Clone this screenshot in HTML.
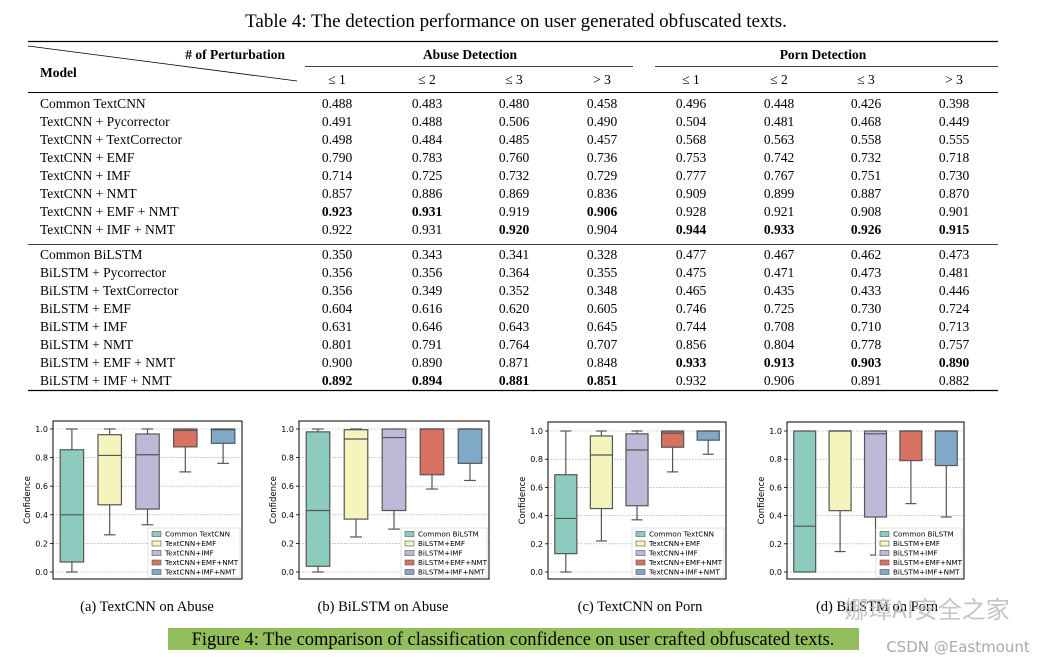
<!DOCTYPE html>
<html><head><meta charset="utf-8">
<style>
html,body{margin:0;padding:0;background:#fff;}
svg{display:block;}
.serif{font-family:"Liberation Serif",serif;}
.sans{font-family:"DejaVu Sans","Liberation Sans",sans-serif;}
</style></head>
<body>
<svg id="root" width="1061" height="661" viewBox="0 0 1061 661" xmlns="http://www.w3.org/2000/svg">
<text x="516" y="27" text-anchor="middle" class="serif" font-size="19">Table 4: The detection performance on user generated obfuscated texts.</text>
<g id="table"></g>
<g id="charts"></g>
<rect x="168" y="628" width="691" height="22" fill="#92bf5b"/>
<text x="513" y="645" text-anchor="middle" class="serif" font-size="18.5">Figure 4: The comparison of classification confidence on user crafted obfuscated texts.</text>
<text x="927" y="618" text-anchor="middle" font-family="'Noto Sans CJK SC',sans-serif" font-size="24" fill="#bbb" opacity="0.85">娜璋AI安全之家</text>
<text x="958" y="652" text-anchor="middle" class="sans" font-size="15" fill="#aaa">CSDN @Eastmount</text>
</svg>
<script>
const NS="http://www.w3.org/2000/svg";
const models=["Common TextCNN","TextCNN + Pycorrector","TextCNN + TextCorrector","TextCNN + EMF","TextCNN + IMF","TextCNN + NMT","TextCNN + EMF + NMT","TextCNN + IMF + NMT","Common BiLSTM","BiLSTM + Pycorrector","BiLSTM + TextCorrector","BiLSTM + EMF","BiLSTM + IMF","BiLSTM + NMT","BiLSTM + EMF + NMT","BiLSTM + IMF + NMT"];
const colHeads=["≤ 1","≤ 2","≤ 3","> 3","≤ 1","≤ 2","≤ 3","> 3"];
const values=[
["0.488","0.483","0.480","0.458","0.496","0.448","0.426","0.398"],
["0.491","0.488","0.506","0.490","0.504","0.481","0.468","0.449"],
["0.498","0.484","0.485","0.457","0.568","0.563","0.558","0.555"],
["0.790","0.783","0.760","0.736","0.753","0.742","0.732","0.718"],
["0.714","0.725","0.732","0.729","0.777","0.767","0.751","0.730"],
["0.857","0.886","0.869","0.836","0.909","0.899","0.887","0.870"],
["0.923","0.931","0.919","0.906","0.928","0.921","0.908","0.901"],
["0.922","0.931","0.920","0.904","0.944","0.933","0.926","0.915"],
["0.350","0.343","0.341","0.328","0.477","0.467","0.462","0.473"],
["0.356","0.356","0.364","0.355","0.475","0.471","0.473","0.481"],
["0.356","0.349","0.352","0.348","0.465","0.435","0.433","0.446"],
["0.604","0.616","0.620","0.605","0.746","0.725","0.730","0.724"],
["0.631","0.646","0.643","0.645","0.744","0.708","0.710","0.713"],
["0.801","0.791","0.764","0.707","0.856","0.804","0.778","0.757"],
["0.900","0.890","0.871","0.848","0.933","0.913","0.903","0.890"],
["0.892","0.894","0.881","0.851","0.932","0.906","0.891","0.882"]];
const bold=[[],[],[],[],[],[],[0,1,3],[2,4,5,6,7],[],[],[],[],[],[],[4,5,6,7],[0,1,2,3]];
// box stats: [whisLo, q1, median, q3, whisHi]
const seriesA=[[0,0.07,0.40,0.855,1],[0.26,0.47,0.815,0.96,1],[0.33,0.44,0.82,0.965,1],[0.70,0.875,0.99,1,1],[0.76,0.90,0.995,1,1]];
const seriesB=[[0,0.04,0.43,0.98,1],[0.245,0.37,0.93,0.995,1],[0.30,0.43,0.94,1,1],[0.58,0.68,1,1,1],[0.64,0.76,1,1,1]];
const seriesC=[[0,0.13,0.38,0.69,1],[0.22,0.45,0.83,0.965,1],[0.37,0.47,0.865,0.98,1],[0.71,0.885,0.985,1,1],[0.835,0.935,1,1,1]];
const seriesD=[[0,0,0.325,1,1],[0.145,0.435,1,1,1],[0.12,0.39,0.98,1,1],[0.485,0.79,1,1,1],[0.39,0.755,1,1,1]];
const legendCNN=["Common TextCNN","TextCNN+EMF","TextCNN+IMF","TextCNN+EMF+NMT","TextCNN+IMF+NMT"];
const legendLSTM=["Common BiLSTM","BiLSTM+EMF","BiLSTM+IMF","BiLSTM+EMF+NMT","BiLSTM+IMF+NMT"];
const yTicks=[0,0.2,0.4,0.6,0.8,1.0];
const captions=["(a)  TextCNN on Abuse","(b)  BiLSTM on Abuse","(c)  TextCNN on Porn","(d)  BiLSTM on Porn"];
const colors=["#8ccbbe","#f6f4bd","#beb9d6","#d6725f","#7fa9c6"];

function el(tag,attrs,parent,text){const e=document.createElementNS(NS,tag);for(const k in attrs)e.setAttribute(k,attrs[k]);if(text!==undefined)e.textContent=text;parent.appendChild(e);return e;}

// ---- table ----
const T=document.getElementById('table');
const colX=[337,427,514,602,691,779,866,954];
function rowY(i){return i<8?108+i*18:259+(i-8)*18;}
el('line',{x1:28,y1:41.5,x2:998,y2:41.5,stroke:"#000","stroke-width":1.2},T);
el('line',{x1:28,y1:92.5,x2:998,y2:92.5,stroke:"#000","stroke-width":1},T);
el('line',{x1:28,y1:244.5,x2:998,y2:244.5,stroke:"#000","stroke-width":0.8},T);
el('line',{x1:28,y1:390.5,x2:998,y2:390.5,stroke:"#000","stroke-width":1.2},T);
el('line',{x1:305,y1:66.5,x2:633,y2:66.5,stroke:"#000","stroke-width":0.8},T);
el('line',{x1:655,y1:66.5,x2:998,y2:66.5,stroke:"#000","stroke-width":0.8},T);
el('line',{x1:28,y1:46,x2:297,y2:81,stroke:"#000","stroke-width":0.8},T);
let h=el('text',{x:285,y:59,"text-anchor":"end",class:"serif","font-size":13.5,"font-weight":"bold"},T,"# of Perturbation");


h=el('text',{x:40,y:77,class:"serif","font-size":13.5,"font-weight":"bold"},T,"Model");


h=el('text',{x:470,y:59,"text-anchor":"middle",class:"serif","font-size":13.5,"font-weight":"bold"},T,"Abuse Detection");


h=el('text',{x:823,y:59,"text-anchor":"middle",class:"serif","font-size":13.5,"font-weight":"bold"},T,"Porn Detection");


colHeads.forEach((c,j)=>{const t=el('text',{x:colX[j],y:84,"text-anchor":"middle",class:"serif","font-size":13.5},T,c);

});
models.forEach((m,i)=>{
 const y=rowY(i);
 const t=el('text',{x:40,y:y,class:"serif","font-size":13.5},T,m);
 
 
 values[i].forEach((v,j)=>{
  const c=el('text',{x:colX[j],y:y,"text-anchor":"middle",class:"serif","font-size":13.5,"font-weight":bold[i].includes(j)?"bold":"normal"},T,v);
  
  
 });
});

// ---- box plots ----
const C=document.getElementById('charts');
const panels=[
 {x0:53,x1:242,top:421,bot:579,y0:572,y1:429,data:seriesA,leg:legendCNN,cap:147},
 {x0:299,x1:489,top:421,bot:579,y0:572,y1:429,data:seriesB,leg:legendLSTM,cap:383},
 {x0:548,x1:726,top:422,bot:579,y0:572,y1:431,data:seriesC,leg:legendCNN,cap:640},
 {x0:787,x1:964,top:422,bot:579,y0:572,y1:431,data:seriesD,leg:legendLSTM,cap:877}];
panels.forEach((p,pi)=>{
 const g=el('g',{},C);
 
 
 const ys=v=>p.y0+(p.y1-p.y0)*v;
 const n=p.data.length, step=(p.x1-p.x0)/n, bw=step*0.62;
 const xc=i=>p.x0+step*(i+0.5);
 yTicks.forEach(t=>{
  el('line',{x1:p.x0,x2:p.x1,y1:ys(t),y2:ys(t),stroke:"#999","stroke-width":0.6,"stroke-dasharray":"1.5,1.5"},g);
  el('line',{x1:p.x0-3,x2:p.x0,y1:ys(t),y2:ys(t),stroke:"#000","stroke-width":0.8},g);
  const tl=el('text',{x:p.x0-5,y:ys(t)+3,"text-anchor":"end",class:"sans","font-size":8},g,t.toFixed(1));
  
  
 });
 const yl=el('text',{transform:`translate(${p.x0-23},${(p.top+p.bot)/2}) rotate(-90)`,"text-anchor":"middle",class:"sans","font-size":8.5},g,"Confidence");
 
 
 p.data.forEach((d,i)=>{
  const cx=xc(i);
  el('line',{x1:cx,x2:cx,y1:ys(d[0]),y2:ys(d[1]),stroke:"#555","stroke-width":1.2},g);
  el('line',{x1:cx,x2:cx,y1:ys(d[3]),y2:ys(d[4]),stroke:"#555","stroke-width":1.2},g);
  el('line',{x1:cx-bw/4,x2:cx+bw/4,y1:ys(d[0]),y2:ys(d[0]),stroke:"#555","stroke-width":1.2},g);
  el('line',{x1:cx-bw/4,x2:cx+bw/4,y1:ys(d[4]),y2:ys(d[4]),stroke:"#555","stroke-width":1.2},g);
  const b=el('rect',{x:cx-bw/2,y:ys(d[3]),width:bw,height:Math.max(0.5,ys(d[1])-ys(d[3])),fill:colors[i],stroke:"#555","stroke-width":1.2},g);
  
  
  el('line',{x1:cx-bw/2,x2:cx+bw/2,y1:ys(d[2]),y2:ys(d[2]),stroke:"#555","stroke-width":1.2},g);
 });
 el('rect',{x:p.x0,y:p.top,width:p.x1-p.x0,height:p.bot-p.top,fill:"none",stroke:"#000","stroke-width":1},g);
 const lw=(pi%2==0)?92:86, lx=p.x1-lw-2, ly=p.bot-51;
 const lg=el('g',{},g);
 
 
 el('rect',{x:lx,y:ly,width:lw,height:49,fill:"#fff","fill-opacity":0.85,stroke:"#ccc","stroke-width":0.6},lg);
 p.leg.forEach((s,i)=>{
  const yy=ly+6+i*9.5;
  el('rect',{x:lx+4,y:yy-2.5,width:9,height:5,fill:colors[i],stroke:"#555","stroke-width":0.6},lg);
  const lt=el('text',{x:lx+17,y:yy+2.7,class:"sans","font-size":7.2},lg,s);
  
  
 });
 const cp=el('text',{x:p.cap,y:611,"text-anchor":"middle",class:"serif","font-size":14.5},g,captions[pi]);
 
 
});
</script>
</body></html>
